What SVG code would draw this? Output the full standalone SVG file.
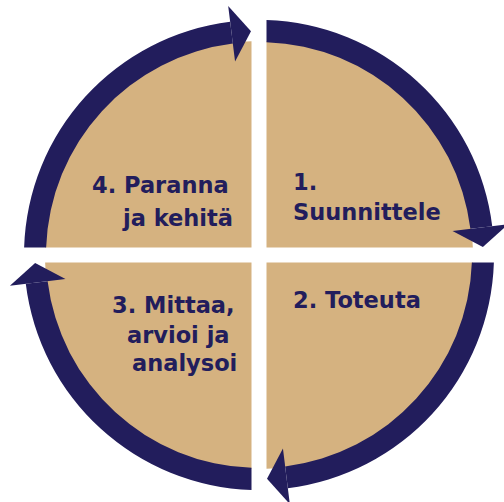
<svg xmlns="http://www.w3.org/2000/svg" width="504" height="502" viewBox="0 0 504 502">
<style>
.q{fill:#d5b280}
.a{fill:#221d5c}
.t{font-family:"DejaVu Sans",sans-serif;font-weight:bold;font-size:22.5px;fill:#221d5c}
</style>
<rect width="504" height="502" fill="#ffffff"/>
<g id="q1">
<path class="q" d="M266.5,247.5 V41.13 A214,214 0 0 1 472.87,247.5 Z"/>
<text class="t" x="293" y="190">1.</text>
<text class="t" x="293" y="220">Suunnittele</text>
</g>
<g id="q2">
<path class="q" d="M266.5,262.5 H472.87 A214,214 0 0 1 266.5,468.87 Z"/>
<text class="t" x="293" y="308">2. Toteuta</text>
</g>
<g id="q3">
<path class="q" d="M251.5,262.5 V468.87 A214,214 0 0 1 45.13,262.5 Z"/>
<text class="t" x="112" y="313">3. Mittaa,</text>
<text class="t" x="127" y="343">arvioi ja</text>
<text class="t" x="132" y="371">analysoi</text>
</g>
<g id="q4">
<path class="q" d="M251.5,247.5 H45.13 A214,214 0 0 1 251.5,41.13 Z"/>
<text class="t" x="92" y="193">4. Paranna</text>
<text class="t" x="123" y="226">ja kehitä</text>
</g>
<g id="connectors">
<path class="a" d="M266.5,20.12 A235,235 0 0 1 492.22,226.16 L470.39,228.86 A213,213 0 0 0 266.5,42.13 Z"/>
<polygon class="a" points="508.10,224.19 452.53,231.07 482.86,246.99"/>
<path class="a" d="M493.88,262.5 A235,235 0 0 1 287.84,488.22 L285.14,466.39 A213,213 0 0 0 471.87,262.5 Z"/>
<polygon class="a" points="289.81,504.10 282.93,448.53 267.01,478.86"/>
<path class="a" d="M251.5,489.88 A235,235 0 0 1 25.78,283.84 L47.61,281.14 A213,213 0 0 0 251.5,467.87 Z"/>
<polygon class="a" points="9.90,285.81 65.47,278.93 35.14,263.01"/>
<path class="a" d="M24.12,247.5 A235,235 0 0 1 230.16,21.78 L232.86,43.61 A213,213 0 0 0 46.13,247.5 Z"/>
<polygon class="a" points="228.19,5.90 235.07,61.47 250.99,31.14"/>
</g>
</svg>
